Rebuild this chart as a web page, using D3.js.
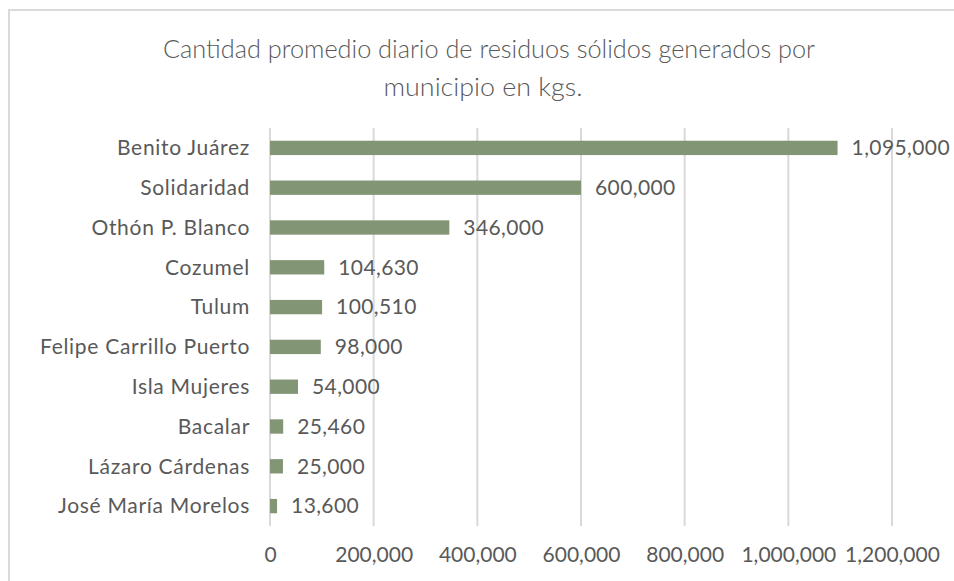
<!DOCTYPE html>
<html>
<head>
<meta charset="utf-8">
<script src="https://cdn.jsdelivr.net/npm/d3@7"></script>
<style>
  html, body { margin: 0; padding: 0; background: #fff; }
  svg { display: block; }
  text { font-family: Lato, "Open Sans", sans-serif; fill: #595959; }
</style>
</head>
<body>
<svg id="chart" width="954" height="581"></svg>
<script>
// Municipalities of Quintana Roo and their average daily solid waste (kg)
const municipios = [
  "Benito Juárez", "Solidaridad", "Othón P. Blanco", "Cozumel", "Tulum",
  "Felipe Carrillo Puerto", "Isla Mujeres", "Bacalar", "Lázaro Cárdenas",
  "José María Morelos"
];
const kilos = [1095000, 600000, 346000, 104630, 100510, 98000, 54000, 25460, 25000, 13600];
const xTicks = [0, 200000, 400000, 600000, 800000, 1000000, 1200000];
const titleLines = [
  "Cantidad promedio diario de residuos sólidos generados por",
  "municipio en kgs."
];

const svg = d3.select("#chart");
const fmt = d3.format(",");

// outer frame
svg.append("path")
  .attr("d", "M9,581 V10 H954")
  .attr("fill", "none")
  .attr("stroke", "#d9d9d9")
  .attr("stroke-width", 2);

// title
const title = svg.append("g");
title.append("text")
  .attr("x", 489).attr("y", 58)
  .attr("text-anchor", "middle")
  .attr("font-size", 26).attr("font-weight", 300)
  .attr("textLength", 652).attr("lengthAdjust", "spacingAndGlyphs")
  .text(titleLines[0]);
title.append("text")
  .attr("x", 483).attr("y", 96)
  .attr("text-anchor", "middle")
  .attr("font-size", 26).attr("font-weight", 300)
  .attr("textLength", 199).attr("lengthAdjust", "spacingAndGlyphs")
  .text(titleLines[1]);

const x = d3.scaleLinear().domain([0, 1200000]).range([270, 892]);
const y = d3.scaleBand().domain(municipios).range([128, 526]).paddingInner(0.64).paddingOuter(0.32);

// vertical gridlines
svg.append("g")
  .selectAll("line")
  .data(xTicks)
  .join("line")
  .attr("x1", d => x(d)).attr("x2", d => x(d))
  .attr("y1", 128).attr("y2", 526)
  .attr("stroke", "#d9d9d9")
  .attr("stroke-width", 2);

// x axis labels
const xAxis = svg.append("g")
  .attr("transform", "translate(0,526)")
  .call(d3.axisBottom(x).tickValues(xTicks).tickFormat(fmt).tickSize(0).tickPadding(0));
xAxis.select(".domain").remove();
xAxis.selectAll("text")
  .attr("y", 36)
  .attr("dy", 0)
  .attr("font-size", 21)
  .attr("fill", "#595959");

// y axis labels
const yAxis = svg.append("g")
  .attr("transform", "translate(270,0)")
  .call(d3.axisLeft(y).tickSize(0).tickPadding(20));
yAxis.select(".domain").remove();
yAxis.selectAll("text")
  .attr("font-size", 21)
  .attr("letter-spacing", 0.7)
  .attr("dy", "0.35em")
  .attr("fill", "#595959");

// bars
const rows = municipios.map((m, i) => ({ m, v: kilos[i] }));
svg.append("g")
  .selectAll("rect")
  .data(rows)
  .join("rect")
  .attr("x", x(0))
  .attr("y", d => y(d.m))
  .attr("width", d => x(d.v) - x(0))
  .attr("height", y.bandwidth())
  .attr("fill", "#829676");

// value labels
svg.append("g")
  .selectAll("text")
  .data(rows)
  .join("text")
  .attr("x", d => x(d.v) + 14)
  .attr("y", d => y(d.m) + y.bandwidth() / 2)
  .attr("dy", "0.35em")
  .attr("font-size", 21)
  .attr("letter-spacing", 0.4)
  .text(d => fmt(d.v));
</script>
</body>
</html>
